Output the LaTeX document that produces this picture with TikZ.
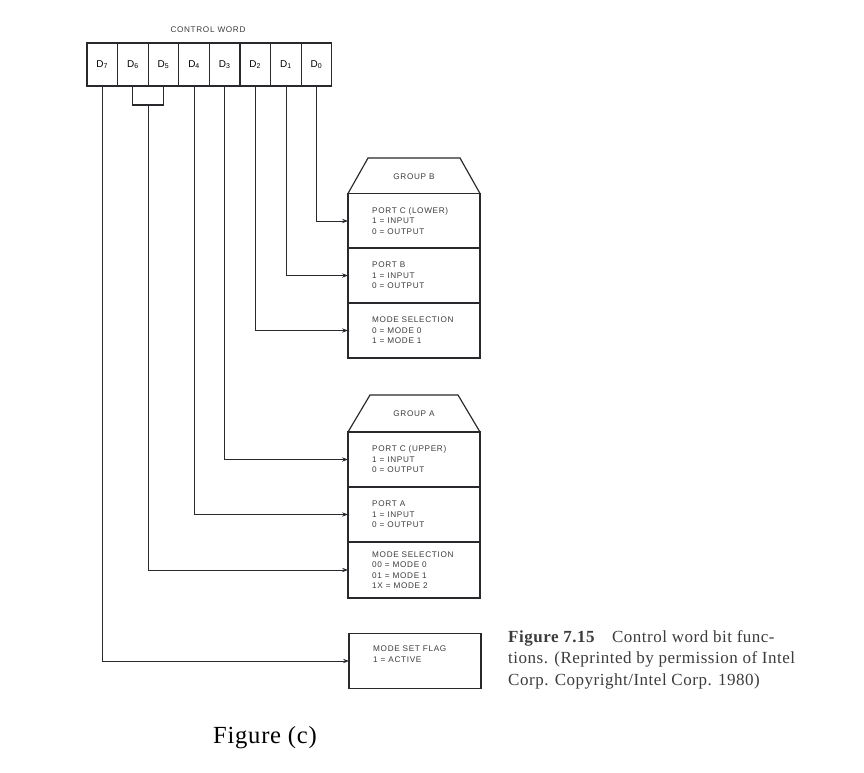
\documentclass[tikz,border=0pt]{standalone}
\usepackage{fontspec}
\usepackage{tikz}
\usetikzlibrary{arrows.meta,calc}
\newfontfamily\diagfont[LetterSpace=8]{Liberation Sans}
\newfontfamily\capfont[LetterSpace=3]{Liberation Serif}
\definecolor{tinta}{RGB}{40,40,45}
\definecolor{gristxt}{RGB}{60,60,60}

\begin{document}
\begin{tikzpicture}[x=0.03cm,y=-0.03cm,>={Stealth[length=5pt,width=3.6pt]},
  font=\diagfont\fontsize{7}{9}\selectfont,
  cell/.style={draw=tinta,line width=0.9pt,minimum width=0.918cm,minimum height=1.29cm,inner sep=0pt,outer sep=0pt,font=\diagfont\fontsize{8.5}{9}\selectfont},
  sect/.style={draw=tinta,line width=1pt,minimum width=3.96cm,minimum height=1.65cm,inner sep=0pt,outer sep=0pt},
  lbl/.style={align=left,inner sep=0pt,text=gristxt},
  conn/.style={draw=tinta,line width=0.6pt,->}]
  \useasboundingbox (0,0) rectangle (864,772);
  % control word
  \node[text=gristxt] (cw) at (208,30) {CONTROL WORD};
  \node[cell] (d7) at (102.3,64.5) {D\textsubscript{7}};
  \node[cell] (d6) at (132.9,64.5) {D\textsubscript{6}};
  \node[cell] (d5) at (163.5,64.5) {D\textsubscript{5}};
  \node[cell] (d4) at (194.1,64.5) {D\textsubscript{4}};
  \node[cell] (d3) at (224.7,64.5) {D\textsubscript{3}};
  \node[cell] (d2) at (255.3,64.5) {D\textsubscript{2}};
  \node[cell] (d1) at (285.9,64.5) {D\textsubscript{1}};
  \node[cell] (d0) at (316.5,64.5) {D\textsubscript{0}};
  \draw[tinta,line width=0.9pt] (d6.south) -- ++(0,19) -| (d5.south);
  \coordinate (brk) at ($(d6.south)!0.5!(d5.south)+(0,19)$);
  % group B
  \node[sect] (pcl) at (414,221) {};
  \node[sect] (pb) at (414,275.5) {};
  \node[sect] (msb) at (414,330.5) {};
  \draw[tinta,line width=1pt] (pcl.north west) -- (368,158) -- (460,158) -- (pcl.north east);
  \node[text=gristxt] (grpb) at (414,177) {GROUP B};
  \node[lbl,anchor=west] (pclt) at ([xshift=0.72cm]pcl.west) {PORT C (LOWER)\\1 = INPUT\\0 = OUTPUT};
  \node[lbl,anchor=west] (pbt) at ([xshift=0.72cm]pb.west) {PORT B\\1 = INPUT\\0 = OUTPUT};
  \node[lbl,anchor=west] (msbt) at ([xshift=0.72cm]msb.west) {MODE SELECTION\\0 = MODE 0\\1 = MODE 1};
  % group A
  \node[sect] (pcu) at (414,459.5) {};
  \node[sect] (pa) at (414,514.5) {};
  \node[sect,minimum height=1.68cm] (msa) at (414,570) {};
  \draw[tinta,line width=1pt] (pcu.north west) -- (370,395) -- (458,395) -- (pcu.north east);
  \node[text=gristxt] (grpa) at (414,414) {GROUP A};
  \node[lbl,anchor=west] (pcut) at ([xshift=0.72cm]pcu.west) {PORT C (UPPER)\\1 = INPUT\\0 = OUTPUT};
  \node[lbl,anchor=west] (pat) at ([xshift=0.72cm]pa.west) {PORT A\\1 = INPUT\\0 = OUTPUT};
  \node[lbl,anchor=west] (msat) at ([xshift=0.72cm]msa.west) {MODE SELECTION\\00 = MODE 0\\01 = MODE 1\\1X = MODE 2};
  % mode set flag
  \node[sect] (msf) at (415,661) {};
  \node[lbl,anchor=west] (msft) at ([xshift=0.72cm,yshift=0.2cm]msf.west) {MODE SET FLAG\\1 = ACTIVE};
  % bit connections
  \draw[conn] (d0.south) |- (pcl.west);
  \draw[conn] (d1.south) |- (pb.west);
  \draw[conn] (d2.south) |- (msb.west);
  \draw[conn] (d3.south) |- (pcu.west);
  \draw[conn] (d4.south) |- (pa.west);
  \draw[conn] (brk) |- (msa.west);
  \draw[conn] (d7.south) |- (msf.west);
  % captions
  \node[anchor=north west,align=left,inner sep=0pt,text=gristxt,font=\capfont\fontsize{14.5}{18.5}\selectfont] (cap) at (508,630)
    {\textbf{Figure 7.15}\quad Control word bit func-\\tions. (Reprinted by permission of Intel\\Corp. Copyright/Intel Corp. 1980)};
  \node[font=\capfont\fontsize{21}{24}\selectfont] (figc) at (265,738) {Figure (c)};
\end{tikzpicture}
\end{document}
